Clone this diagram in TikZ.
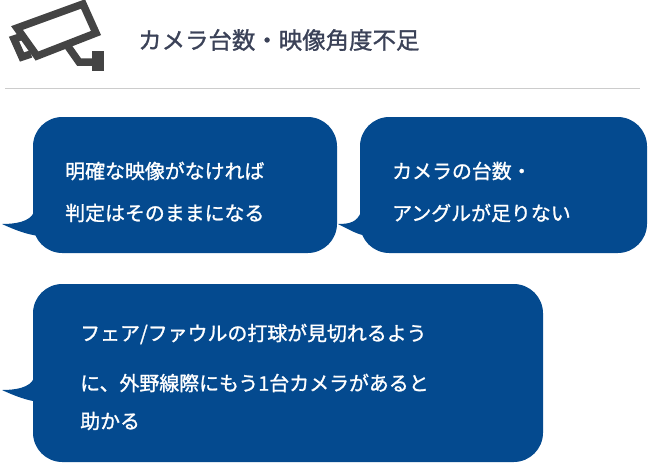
\documentclass[tikz,border=0pt]{standalone}
\usepackage{fontspec}
\newfontfamily\jp{Noto Sans CJK JP}[FakeBold=1.2]
\definecolor{bubblue}{HTML}{044A8F}
\definecolor{titlegray}{HTML}{3B4258}
\definecolor{icongray}{HTML}{444444}
\tikzset{
  bubble/.style={fill=bubblue},
  bubtext/.style={anchor=west, text=white, font=\jp\fontsize{17}{20}\selectfont, inner sep=0pt},
}
\begin{document}
\begin{tikzpicture}[x=0.03cm,y=-0.03cm]
\useasboundingbox (0,0) rectangle (648,464);

% camera icon
\draw[icongray, line width=4\pgflinewidth, line join=miter]
  (17,28) -- (83,4) -- (96,33) -- (37,56) -- cycle;
\draw[icongray, line width=4\pgflinewidth] (23,36) -- (14,39) -- (22,57) -- (31,54);
\draw[icongray, line width=4\pgflinewidth] (67,45) -- (79,62) -- (97,62);
\draw[icongray, line width=5\pgflinewidth] (98,51) -- (98,71);
\fill[icongray] (79,62) circle (3);
\fill[icongray] (67,45) circle (3);

% title
\node[anchor=west, text=titlegray, font=\jp\fontsize{20}{24}\selectfont, inner sep=0pt] (title) at (138,40) {カメラ台数・映像角度不足};
\draw[gray!40, line width=0.8pt] (5,88) -- (640,88);

% bubble 1
\fill[bubble, rounded corners=25] (33,117) rectangle (337,253);
\fill[bubble] (34,212) .. controls (30,222) and (15,224) .. (2,224) .. controls (15,230) and (28,235) .. (40,236) -- cycle;
\node[bubtext] (b1a) at (65,171) {明確な映像がなければ};
\node[bubtext] (b1b) at (65,213) {判定はそのままになる};

% bubble 2
\fill[bubble, rounded corners=25] (360,117) rectangle (647,253);
\fill[bubble] (361,212) .. controls (357,222) and (350,224) .. (338,224) .. controls (350,230) and (358,235) .. (368,236) -- cycle;
\node[bubtext] (b2a) at (392,171) {カメラの台数・};
\node[bubtext] (b2b) at (392,213) {アングルが足りない};

% bubble 3
\fill[bubble, rounded corners=25] (33,284) rectangle (543,462);
\fill[bubble] (34,378) .. controls (30,388) and (15,390) .. (2,390) .. controls (15,396) and (28,401) .. (40,402) -- cycle;
\node[bubtext] (b3a) at (80,334) {フェア/ファウルの打球が見切れるよう};
\node[bubtext] (b3b) at (80,383) {に、外野線際にもう1台カメラがあると};
\node[bubtext] (b3c) at (80,421) {助かる};
\end{tikzpicture}
\end{document}
